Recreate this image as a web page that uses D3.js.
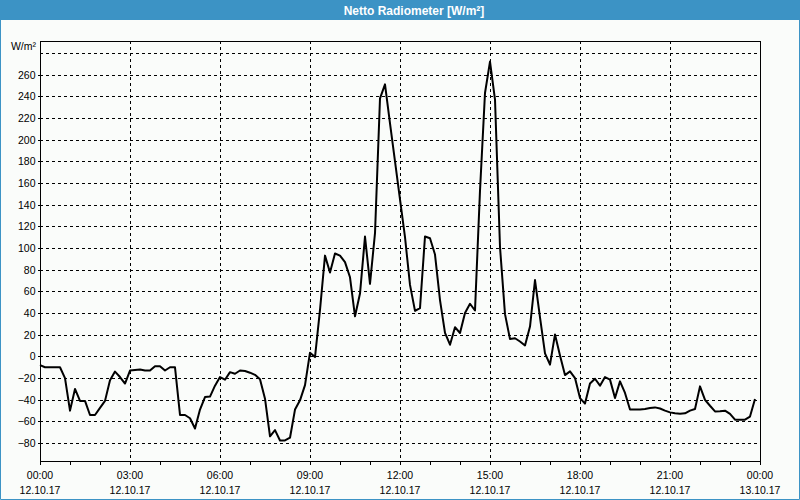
<!DOCTYPE html>
<html>
<head>
<meta charset="utf-8">
<script src="https://cdn.jsdelivr.net/npm/d3@7"></script>
<style>
  html, body { margin: 0; padding: 0; background: #ffffff; }
  svg { display: block; }
  text { font-family: "Liberation Sans", Arial, sans-serif; }
</style>
</head>
<body>
<svg id="chart" width="800" height="500"></svg>
<script>
// ---------- data ----------
const chartTitle = "Netto Radiometer [W/m²]";
const unitLabel = "W/m²";
const startTime = Date.UTC(2017, 9, 12, 0, 0);   // 12.10.17 00:00
const endTime = Date.UTC(2017, 9, 13, 0, 0);     // 13.10.17 00:00
const stepMinutes = 10;
// net radiation, W/m², one value every 10 minutes from 00:00
const values = [
  -8, -10, -10, -10, -10, -20, -50, -30, -41, -41,
  -54, -54, -47.5, -41, -22, -14, -19, -25, -13, -12.5,
  -12, -13, -13, -9, -9, -13, -10, -10, -54, -54,
  -57, -66.5, -49, -37.5, -37, -27, -19, -21.5, -14.5, -16,
  -13, -13.5, -15, -17, -21, -39, -73.7, -68, -77.5, -77.5,
  -75, -49, -40.5, -26.5, 3.5, -0.6, 43, 93, 77.4, 95,
  93, 87, 73, 37, 58, 110.6, 67, 113.7, 238, 251,
  215, 180, 145, 110, 66, 42, 44.6, 110.6, 109, 94,
  52, 21.7, 10.8, 27, 21.6, 40, 48.6, 42.4, 153, 243,
  272, 237, 101, 39, 16, 16.8, 13.8, 10.1, 27.6, 70.5,
  36, 2.8, -7.6, 20.3, 0.8, -17.2, -13.8, -20, -38.4, -43.5,
  -25, -20.6, -27, -19, -21.4, -38.4, -23, -33.7, -49, -49,
  -49, -48.5, -47.5, -47, -48, -50, -51.6, -52.5, -52.8, -52.5,
  -50, -48.5, -27.6, -40, -45.5, -50.7, -50.5, -50, -53, -58.3,
  -58.3, -58.3, -55.5, -39.3
];
const yTickValues = [-80, -60, -40, -20, 0, 20, 40, 60, 80, 100, 120, 140, 160, 180, 200, 220, 240, 260];
const yGridValues = [-80, -60, -40, -20, 0, 20, 40, 60, 80, 100, 120, 140, 160, 180, 200, 220, 240, 260, 280];
const xLabelHours = [0, 3, 6, 9, 12, 15, 18, 21, 24];
const yDomain = [-96, 291];

// ---------- layout ----------
const W = 800, H = 500;
const plot = { left: 40, right: 760, top: 41, bottom: 460.5 };
const frameBlue = "#3c93c5";
const bg = "#fafcfa";

const svg = d3.select("#chart");

svg.append("rect").attr("x", 0).attr("y", 0).attr("width", W).attr("height", H).attr("fill", bg);
// title bar
svg.append("rect").attr("x", 0).attr("y", 0).attr("width", W).attr("height", 20).attr("fill", frameBlue);
svg.append("text")
  .attr("x", 414).attr("y", 14.5)
  .attr("text-anchor", "middle")
  .attr("fill", "#ffffff")
  .attr("font-weight", "bold")
  .attr("font-size", "12px")
  .text(chartTitle);
// outer border
svg.append("path")
  .attr("d", `M0.5,20 V${H - 0.5} H${W - 0.5} V20`)
  .attr("fill", "none").attr("stroke", frameBlue).attr("stroke-width", 1);

// ---------- scales ----------
const data = values.map((v, i) => ({ t: new Date(startTime + i * stepMinutes * 60000), v }));
const x = d3.scaleUtc().domain([new Date(startTime), new Date(endTime)]).range([plot.left, plot.right]);
const y = d3.scaleLinear().domain(yDomain).range([plot.bottom, plot.top]);

const crisp = v => Math.round(v) + 0.5;

// ---------- grid ----------
const grid = svg.append("g").attr("stroke", "#000").attr("stroke-width", 1)
  .attr("stroke-dasharray", "3,3").attr("shape-rendering", "crispEdges");
grid.selectAll("line.h").data(yGridValues).join("line")
  .attr("class", "h")
  .attr("x1", plot.left).attr("x2", plot.right)
  .attr("y1", d => crisp(y(d))).attr("y2", d => crisp(y(d)));
const vGridTimes = xLabelHours.slice(1, -1).map(h => new Date(startTime + h * 3600000));
grid.selectAll("line.v").data(vGridTimes).join("line")
  .attr("class", "v")
  .attr("y1", plot.top).attr("y2", plot.bottom)
  .attr("x1", d => crisp(x(d))).attr("x2", d => crisp(x(d)));

// ---------- axes ----------
const hourTicks = d3.range(0, 25).map(h => new Date(startTime + h * 3600000));
const xAxis = d3.axisBottom(x).tickValues(hourTicks).tickSize(3).tickFormat("");
const gx = svg.append("g").attr("transform", `translate(0,${crisp(plot.bottom)})`).call(xAxis);
gx.select(".domain").remove();
gx.selectAll(".tick line").attr("stroke", "#000").attr("shape-rendering", "crispEdges");

const fmtTime = d3.utcFormat("%H:%M");
const fmtDate = d3.utcFormat("%d.%m.%y");
const labelTimes = xLabelHours.map(h => new Date(startTime + h * 3600000));
const xl = svg.append("g").attr("font-size", "10.5px").attr("fill", "#000").attr("text-anchor", "middle");
xl.selectAll("text.t").data(labelTimes).join("text").attr("class", "t")
  .attr("x", d => x(d)).attr("y", 479).text(d => fmtTime(d));
xl.selectAll("text.d").data(labelTimes).join("text").attr("class", "d")
  .attr("x", d => x(d)).attr("y", 494).text(d => fmtDate(d));

const yAxis = d3.axisLeft(y).tickValues(yTickValues).tickSize(3).tickPadding(2);
const gy = svg.append("g").attr("transform", `translate(${crisp(plot.left)},0)`).call(yAxis);
gy.select(".domain").remove();
gy.selectAll(".tick").attr("transform", d => `translate(0,${crisp(y(d))})`);
gy.selectAll(".tick line").attr("stroke", "#000").attr("shape-rendering", "crispEdges");
gy.selectAll(".tick text").attr("font-size", "10.5px").attr("fill", "#000")
  .attr("font-family", "Liberation Sans, Arial, sans-serif");

svg.append("text").attr("x", 36).attr("y", 50).attr("text-anchor", "end")
  .attr("font-size", "10.5px").attr("fill", "#000").text(unitLabel);

// plot frame
svg.append("rect")
  .attr("x", crisp(plot.left)).attr("y", crisp(plot.top))
  .attr("width", crisp(plot.right) - crisp(plot.left))
  .attr("height", crisp(plot.bottom) - crisp(plot.top))
  .attr("fill", "none").attr("stroke", "#000").attr("stroke-width", 1)
  .attr("shape-rendering", "crispEdges");

// ---------- line ----------
const line = d3.line().x(d => x(d.t)).y(d => y(d.v));
svg.append("path").datum(data)
  .attr("d", line)
  .attr("fill", "none").attr("stroke", "#000").attr("stroke-width", 2)
  .attr("stroke-linejoin", "round");
</script>
</body>
</html>
